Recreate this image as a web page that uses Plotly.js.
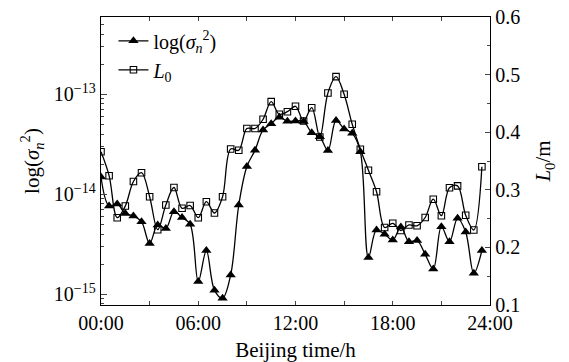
<!DOCTYPE html>
<html><head><meta charset="utf-8">
<script src="https://cdn.plot.ly/plotly-3.0.1.min.js"></script>
<style>html,body{margin:0;padding:0;background:#fff}#chart{width:569px;height:362px}</style>
</head><body><div id="chart"></div>
<script>
// Beijing time (hours), one sample every 30 min
const hours = [0,0.5,1,1.5,2,2.5,3,3.5,4,4.5,5,5.5,6,6.5,7,7.5,8,8.5,9,9.5,10,10.5,11,11.5,
               12,12.5,13,13.5,14,14.5,15,15.5,16,16.5,17,17.5,18,18.5,19,19.5,20,20.5,21,21.5,22,22.5,23,23.5];
// sigma_n^2 (left, log axis)
const sigma2 = [1.49e-14,7.64e-15,8.0e-15,6.43e-15,6.07e-15,5.32e-15,3.22e-15,4.93e-15,4.55e-15,6.70e-15,5.86e-15,5.01e-15,
                1.34e-15,2.74e-15,1.10e-15,9.12e-16,1.56e-15,7.82e-15,1.90e-14,2.75e-14,4.40e-14,5.08e-14,5.89e-14,5.37e-14,
                5.41e-14,5.35e-14,4.13e-14,3.77e-14,2.74e-14,5.47e-14,4.50e-14,4.07e-14,2.67e-14,2.33e-15,4.40e-15,3.99e-15,
                3.49e-15,4.71e-15,3.36e-15,3.45e-15,2.51e-15,1.79e-15,4.74e-15,3.36e-15,5.75e-15,4.20e-15,1.62e-15,2.74e-15];
// L0 in metres (right axis)
const L0 = [0.366,0.3245,0.2516,0.2719,0.3144,0.3297,0.288,0.2307,0.2736,0.304,0.2679,0.2727,
            0.2516,0.2793,0.2597,0.288,0.3708,0.3686,0.4064,0.4064,0.4224,0.453,0.4311,0.4356,
            0.445,0.4194,0.4425,0.3917,0.4681,0.4964,0.4658,0.4137,0.3705,0.3339,0.2967,0.2345,
            0.2418,0.2293,0.2389,0.2375,0.2519,0.2837,0.255,0.3036,0.3069,0.2557,0.2302,0.3401];
const xTickVals = [0,3,6,9,12,15,18,21,24];
const xTickText = ['00:00','','06:00','','12:00','','18:00','','24:00'];
const yTickVals = [1e-15,1e-14,1e-13];
const yTickText = ['10<sup>−15</sup>','10<sup>−14</sup>','10<sup>−13</sup>'];
const y2TickVals = [0.1,0.2,0.3,0.4,0.5,0.6];
const y2TickText = ['0.1','0.2','0.3','0.4','0.5','0.6'];

const minorLog = [];
[-16,-15,-14,-13].forEach(e => { for (let m = 2; m <= 9; m++) minorLog.push(m * Math.pow(10, e)); });

const FONT = '"Liberation Serif", "Times New Roman", serif';

const traces = [
  {x: hours, y: sigma2, name: 'log(<i>σ</i><sub><i>n</i></sub><sup>2</sup>)', type: 'scatter', mode: 'lines+markers',
   line: {color: '#000', width: 1.3, shape: 'spline', smoothing: 1},
   marker: {symbol: 'triangle-up', size: 9, color: '#000'}, yaxis: 'y'},
  {x: hours, y: L0, name: '<i>L</i><sub>0</sub>', type: 'scatter', mode: 'lines+markers',
   line: {color: '#000', width: 1.3, shape: 'spline', smoothing: 1},
   marker: {symbol: 'square-open', size: 6.5, color: '#000', line: {width: 1.1, color: '#000'}}, yaxis: 'y2'}
];

const layout = {
  width: 569, height: 362,
  margin: {l: 101, r: 79, t: 17, b: 57},
  paper_bgcolor: '#fff', plot_bgcolor: '#fff',
  font: {family: FONT, size: 20, color: '#000'},
  showlegend: true,
  legend: {x: 0.032, y: 0.985, xanchor: 'left', yanchor: 'top', bgcolor: 'rgba(0,0,0,0)',
           font: {family: FONT, size: 20}, tracegroupgap: 0, itemwidth: 30},
  xaxis: {range: [0, 24], tickmode: 'array', tickvals: xTickVals, ticktext: xTickText,
          ticks: 'inside', ticklen: 4, tickwidth: 1, showline: true, linecolor: '#000', linewidth: 1.3,
          mirror: 'ticks', showgrid: false, zeroline: false,
          tickfont: {family: FONT, size: 20},
          title: {text: 'Beijing time/h', font: {family: FONT, size: 21}, standoff: 9}},
  yaxis: {type: 'log', range: [-15.107, -12.227], tickmode: 'array', tickvals: yTickVals, ticktext: yTickText,
          ticks: 'inside', ticklen: 6, tickwidth: 1, showline: true, linecolor: '#000', linewidth: 1.3,
          mirror: true, showgrid: false, zeroline: false,
          minor: {tickmode: 'array', tickvals: minorLog, ticks: 'inside', ticklen: 3, tickwidth: 1, showgrid: false},
          tickfont: {family: FONT, size: 20},
          title: {text: 'log(<i>σ</i><sub><i>n</i></sub><sup>2</sup>)', font: {family: FONT, size: 21}, standoff: 8}},
  yaxis2: {overlaying: 'y', side: 'right', range: [0.1, 0.6], tickmode: 'array', tickvals: y2TickVals, ticktext: y2TickText,
           ticks: 'inside', ticklen: 5, tickwidth: 1, showline: true, linecolor: '#000', linewidth: 1.3,
           showgrid: false, zeroline: false,
           minor: {dtick: 0.05, ticks: 'inside', ticklen: 3, tickwidth: 1, showgrid: false},
           tickfont: {family: FONT, size: 20},
           title: {text: '<i>L</i><sub>0</sub>/m', font: {family: FONT, size: 21}, standoff: 16}}
};

Plotly.newPlot('chart', traces, layout, {displayModeBar: false, staticPlot: true});
</script>
</body></html>
